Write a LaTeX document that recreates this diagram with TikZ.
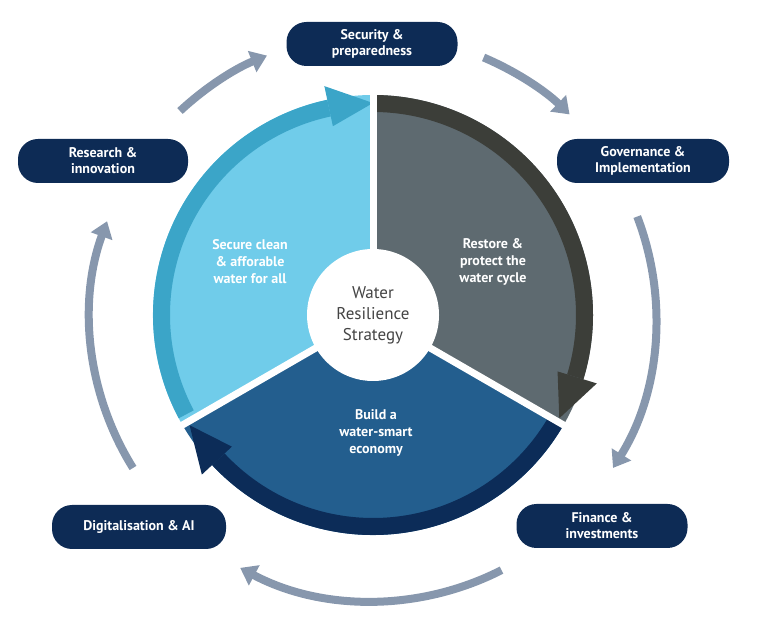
\documentclass[tikz,border=0pt]{standalone}
\usepackage{fontspec}
\setmainfont{PT Sans}
\usetikzlibrary{arrows.meta,calc}
\definecolor{navy}{HTML}{0D2B55}
\definecolor{ring}{HTML}{8797AD}
\definecolor{lb}{HTML}{70CCEA}
\definecolor{lbband}{HTML}{3BA5C8}
\definecolor{gr}{HTML}{5E6A70}
\definecolor{grband}{HTML}{3C3E39}
\definecolor{db}{HTML}{235E8E}
\definecolor{dbband}{HTML}{0C2C58}
\definecolor{ctext}{HTML}{444444}
\begin{document}
\begin{tikzpicture}[x=1pt,y=1pt,
  box/.style={rounded corners=20pt,fill=navy,text=white,font=\bfseries\fontsize{14}{16}\selectfont,align=center,minimum height=44pt,inner sep=2pt},
  slabel/.style={text=white,font=\bfseries\fontsize{14}{17}\selectfont,align=center},
  ringarrow/.style={draw=ring,line width=8pt,-{Triangle[length=16pt,width=22pt]}}]
\useasboundingbox (0,0) rectangle (757,618);
\coordinate (C) at (373,303);
\def\R{220}
% sectors
\fill[lb] (C) -- ++(210:\R) arc[start angle=210,end angle=90,radius=\R] -- cycle;
\fill[gr] (C) -- ++(90:\R) arc[start angle=90,end angle=-30,radius=\R] -- cycle;
\fill[db] (C) -- ++(-30:\R) arc[start angle=-30,end angle=-150,radius=\R] -- cycle;
% bands
\fill[lbband] ($(C)+(208:203)$) arc[start angle=208,end angle=102,radius=203] -- ($(C)+(102:220)$) arc[start angle=102,end angle=208,radius=220] -- cycle;
\fill[lbband] ($(C)+(102:193)$) -- ($(C)+(90:212)$) -- ($(C)+(102:234)$) -- cycle;
\fill[grband] ($(C)+(90:203)$) arc[start angle=90,end angle=-17,radius=203] -- ($(C)+(-17:220)$) arc[start angle=-17,end angle=90,radius=220] -- cycle;
\fill[grband] ($(C)+(-17:193)$) -- ($(C)+(-29:213)$) -- ($(C)+(-17:234)$) -- cycle;
\fill[dbband] ($(C)+(-30:203)$) arc[start angle=-30,end angle=-137,radius=203] -- ($(C)+(-137:220)$) arc[start angle=-137,end angle=-30,radius=220] -- cycle;
\fill[dbband] ($(C)+(-137:193)$) -- ($(C)+(-149:214)$) -- ($(C)+(-137:234)$) -- cycle;
% gaps
\foreach \a in {90,210,330} \draw[white,line width=7pt] (C) -- ++(\a:240);
% centre
\node[circle,fill=white,minimum size=132pt,text=ctext,font=\fontsize{17}{21}\selectfont,align=center,inner sep=0pt] (ctr) at (C) {Water\\Resilience\\Strategy};
\node[slabel] (s1) at (250,356) {Secure clean\\\& afforable\\water for all};
\node[slabel] (s2) at (493,356) {Restore \&\\protect the\\water cycle};
\node[slabel] (s3) at (376,185) {Build a\\water-smart\\economy};
% boxes
\node[box,minimum width=171pt] (sec) at (372,574) {Security \&\\preparedness};
\node[box,minimum width=172pt] (gov) at (643,457) {Governance \&\\Implementation};
\node[box,minimum width=171pt] (fin) at (602,92) {Finance \&\\investments};
\node[box,minimum width=174pt] (dig) at (139,91) {Digitalisation \& AI};
\node[box,minimum width=170pt] (res) at (103,457) {Research \&\\innovation};
% ring arrows
\coordinate (O) at (373,300);
\draw[ringarrow] ($(O)+(133:283)$) arc[start angle=133,end angle=112,radius=283];
\draw[ringarrow] ($(O)+(67:283)$) arc[start angle=67,end angle=46,radius=283];
\draw[ringarrow] ($(O)+(21:283)$) arc[start angle=21,end angle=-32,radius=283];
\draw[ringarrow] ($(O)+(-63:283)$) arc[start angle=-63,end angle=-118,radius=283];
\draw[ringarrow] ($(O)+(212:283)$) arc[start angle=212,end angle=160,radius=283];
\end{tikzpicture}
\end{document}
